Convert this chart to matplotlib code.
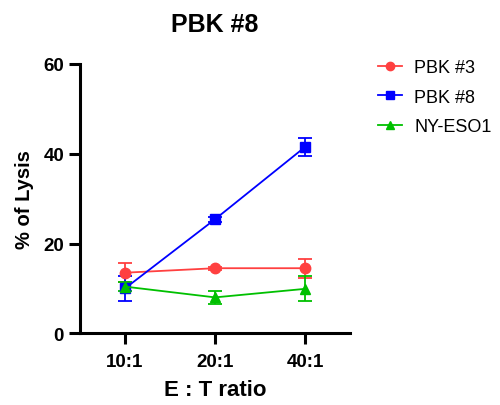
import matplotlib
matplotlib.use("Agg")
import matplotlib.pyplot as plt
from matplotlib.lines import Line2D

plt.rcParams['font.family'] = ['Liberation Sans', 'DejaVu Sans']

categories = ["10:1", "20:1", "40:1"]
pbk3 = [13.5, 14.5, 14.5]
pbk3_err = [2.1, 0.3, 2.1]
pbk8 = [10.0, 25.4, 41.5]
pbk8_err = [2.7, 0.6, 2.0]
nyeso = [10.4, 8.0, 9.9]
nyeso_err = [1.0, 1.4, 2.8]

fig = plt.figure(figsize=(5.0, 4.06), dpi=100)
ax = fig.add_axes([0.16, 0.1766, 0.54, 0.6634])

x = list(range(len(categories)))
series = [
    ("PBK #3", pbk3, pbk3_err, "#FF4040", "o"),
    ("PBK #8", pbk8, pbk8_err, "#0000FF", "s"),
    ("NY-ESO1", nyeso, nyeso_err, "#00C000", "^"),
]
handles = []
for name, vals, errs, col, mk in series:
    ax.errorbar(x, vals, yerr=errs, color=col, marker=mk, markersize=7.5,
                linewidth=1.3, elinewidth=1.3, capsize=5, capthick=1.3)
    handles.append(Line2D([], [], color=col, marker=mk, markersize=6,
                          linewidth=1.3, label=name))

ax.set_xlim(-0.5, 2.5)
ax.set_ylim(0, 60)
ax.set_yticks([0, 20, 40, 60])
ax.set_xticks(x)
ax.set_xticklabels(categories)
for s in ["top", "right"]:
    ax.spines[s].set_visible(False)
for s in ["left", "bottom"]:
    ax.spines[s].set_linewidth(2.2)
ax.tick_params(axis="both", width=2.2, length=8, labelsize=13.5)
ax.tick_params(axis="y", pad=3.5)
ax.tick_params(axis="x", pad=6.5)
for lab in ax.get_xticklabels() + ax.get_yticklabels():
    lab.set_fontweight("bold")

ax.set_xlabel("E : T ratio", fontsize=16, fontweight="bold", labelpad=6)
ax.set_ylabel("% of Lysis", fontsize=14.5, fontweight="bold", labelpad=7)
ax.set_title("PBK #8", fontsize=18, fontweight="bold", pad=24)

ax.legend(handles=handles, loc="upper left", bbox_to_anchor=(1.104, 1.018),
          frameon=False, fontsize=13, handlelength=1.3, handletextpad=0.7,
          labelspacing=0.7, borderaxespad=0, borderpad=0)

fig.savefig("out.png", dpi=100)
